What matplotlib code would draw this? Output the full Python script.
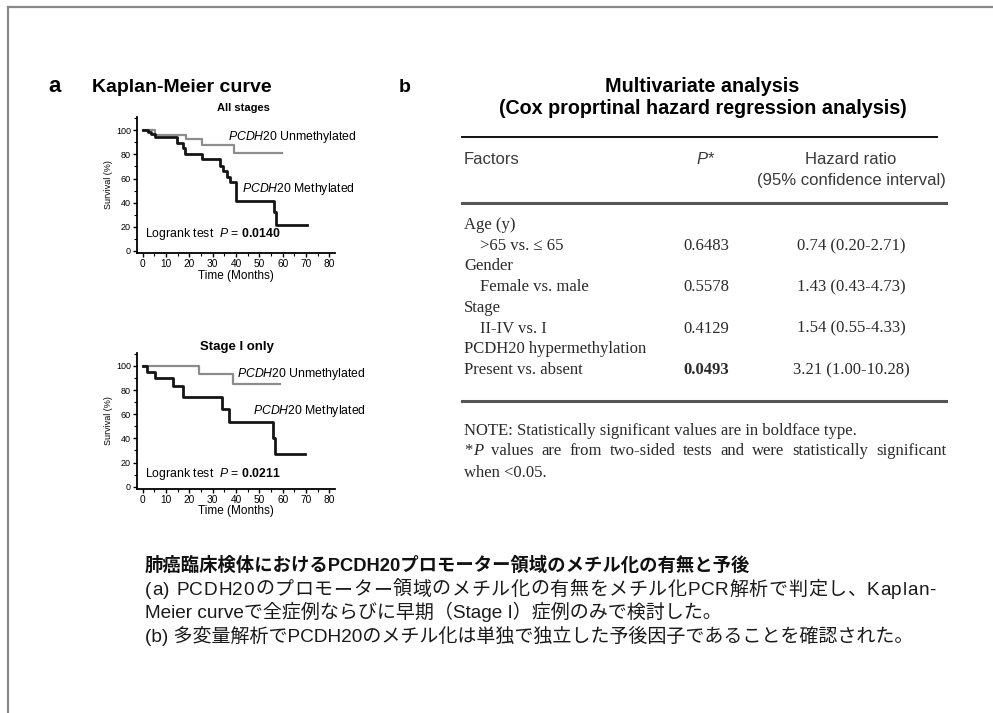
import matplotlib
matplotlib.use("Agg")
import matplotlib.pyplot as plt
from matplotlib.lines import Line2D
from matplotlib.ticker import MultipleLocator

plt.rcParams['font.family'] = ['Liberation Sans', 'DejaVu Sans']
plt.rcParams['mathtext.fontset'] = 'custom'
plt.rcParams['mathtext.rm'] = 'Liberation Sans'
plt.rcParams['mathtext.it'] = 'Liberation Sans:italic'
plt.rcParams['mathtext.bf'] = 'Liberation Sans:bold'

W, H = 993, 713

# Kaplan-Meier curves, all stages (months, survival %)
all_meth_t = [0, 2.4, 3.4, 5.3, 14.6, 17.4, 18.2, 25.3, 33.1, 34.3, 36.0, 37.4, 40.0, 56.3, 57.1, 70.3]
all_meth_s = [100, 98.6, 96.7, 94.5, 89.8, 85.7, 80, 75.9, 70, 66, 61.4, 57.3, 41.3, 32.5, 21.5, 21.5]
all_unmeth_t = [0, 5.3, 18.6, 25.3, 39.1, 59.6]
all_unmeth_s = [100, 96, 92.5, 87.6, 81.3, 81.3]
all_p = "0.0140"

# Kaplan-Meier curves, stage I only
st1_meth_t = [0, 1.7, 5.3, 13.1, 17.1, 33.9, 37.1, 55.7, 56.7, 69.6]
st1_meth_s = [100, 95.3, 89.8, 83.4, 74.6, 64.4, 53.9, 40, 26.8, 26.8]
st1_unmeth_t = [0, 24.3, 38.6, 58.9]
st1_unmeth_s = [100, 93.1, 85.1, 85.1]
st1_p = "0.0211"

# multivariate table
factor_groups = ["Age (y)", "Gender", "Stage", "PCDH20 hypermethylation"]
factor_rows = [">65 vs. \u2264 65", "Female vs. male", "II-IV vs. I", "Present vs. absent"]
p_values = ["0.6483", "0.5578", "0.4129", "0.0493"]
hazard = ["0.74 (0.20-2.71)", "1.43 (0.43-4.73)", "1.54 (0.55-4.33)", "3.21 (1.00-10.28)"]
significant = [False, False, False, True]

note1 = "NOTE: Statistically significant values are in boldface type."
note2 = "values are from two-sided tests and were statistically significant"
note3 = "when <0.05."

caption = [
    "肺癌臨床検体におけるPCDH20プロモーター領域のメチル化の有無と予後",
    "(a) PCDH20のプロモーター領域のメチル化の有無をメチル化PCR解析で判定し、Kaplan-",
    "Meier curveで全症例ならびに早期（Stage I）症例のみで検討した。",
    "(b) 多変量解析でPCDH20のメチル化は単独で独立した予後因子であることを確認された。",
]

fig = plt.figure(figsize=(W / 100, H / 100), dpi=100)
renderer = fig.canvas.get_renderer()


def fx(x):
    return x / W


def fy(y):
    return 1 - y / H


def text_width(s, **kw):
    t = fig.text(0, 0, s, **kw)
    w = t.get_window_extent(renderer).width
    t.remove()
    return w


def justify_chars(s, x0, x1, y, **kw):
    # spread the characters of one line so that it fills x0..x1
    base = text_width("|", **kw)
    natural = text_width(s + "|", **kw) - base
    extra = (x1 - x0 - natural) / (len(s) - 1)
    for i, ch in enumerate(s):
        if ch == " ":
            continue
        pos = text_width(s[:i] + "|", **kw) - base if i > 0 else 0
        fig.text(fx(x0 + pos + i * extra), fy(y), ch, va='baseline', **kw)


def justify_words(pieces, x0, x1, y, **kw):
    widths = [text_width(w, **kw, **st) for w, st in pieces]
    gap = (x1 - x0 - sum(widths)) / (len(pieces) - 1)
    x = x0
    for (w, st), wd in zip(pieces, widths):
        fig.text(fx(x), fy(y), w, va='baseline', **kw, **st)
        x += wd + gap


def km_panel(top_px, title, title_x, title_y, tfs, mt, ms, ut, us, pval, lab):
    ax = fig.add_axes([fx(137.3), fy(top_px + 135.8), 197.9 / W, 135.8 / H])
    ax.step(ut, us, where='post', color='#8c8c8c', lw=1.6)
    ax.step(mt, ms, where='post', color='#151515', lw=2.0)
    ax.set_xlim(-2.3, 82.5)
    ax.set_ylim(-1.5, 111)
    for s in ['top', 'right']:
        ax.spines[s].set_visible(False)
    for s in ['left', 'bottom']:
        ax.spines[s].set_linewidth(1.3)
    ax.xaxis.set_major_locator(MultipleLocator(10))
    ax.xaxis.set_minor_locator(MultipleLocator(5))
    ax.yaxis.set_major_locator(MultipleLocator(20))
    ax.yaxis.set_minor_locator(MultipleLocator(10))
    ax.tick_params(which='major', length=3, width=1, pad=1.5)
    ax.tick_params(axis='x', labelsize=7.3)
    ax.tick_params(axis='y', labelsize=6.5)
    ax.tick_params(which='minor', length=2, width=0.8)
    ax.set_xlabel("Time (Months)", fontsize=8.5, labelpad=0.5)
    ax.set_ylabel("Survival (%)", fontsize=6.5, labelpad=2)
    fig.text(fx(title_x), fy(title_y), title, fontsize=tfs, fontweight='bold',
             ha='center', va='center')
    ax.text(lab[0][0], lab[0][1], r"$\it{PCDH20}$ Unmethylated", fontsize=8.8, va='center')
    ax.text(lab[1][0], lab[1][1], r"$\it{PCDH20}$ Methylated", fontsize=8.8, va='center')
    ax.text(lab[2][0], lab[2][1], r"Logrank test  $\it{P}$ = $\bf{" + pval + "}$",
            fontsize=8.8, va='center')
    return ax


fig.text(fx(55), fy(87), "a", fontsize=16, fontweight='bold', ha='center', va='center')
fig.text(fx(92), fy(87), "Kaplan-Meier curve", fontsize=14, fontweight='bold', va='center')

km_panel(117.0, "All stages", 243, 108, 8, all_meth_t, all_meth_s, all_unmeth_t, all_unmeth_s,
         all_p, [(36.6, 94.4), (42.4, 51.5), (1.0, 14)])
km_panel(352.7, "Stage I only", 237, 347, 9.5, st1_meth_t, st1_meth_s, st1_unmeth_t, st1_unmeth_s,
         st1_p, [(40.5, 93.3), (47.2, 62.5), (1.0, 10.5)])

# panel b: table
fig.text(fx(405), fy(87), "b", fontsize=14, fontweight='bold', ha='center', va='center')
fig.text(fx(702), fy(86), "Multivariate analysis", fontsize=14.2, fontweight='bold',
         ha='center', va='center')
fig.text(fx(703), fy(108), "(Cox proprtinal hazard regression analysis)", fontsize=14.2,
         fontweight='bold', ha='center', va='center')

fig.add_artist(Line2D([fx(462), fx(937)], [fy(137), fy(137)], color='#111111', lw=1.4))
fig.add_artist(Line2D([fx(462), fx(946)], [fy(203), fy(203)], color='#555555', lw=2.2))
fig.add_artist(Line2D([fx(462), fx(946)], [fy(401), fy(401)], color='#555555', lw=2.2))

hdr_col = '#3a3a3a'
col_p, col_hr = 706, 851
fig.text(fx(464), fy(159), "Factors", fontsize=12, color=hdr_col, va='center')
fig.text(fx(col_p), fy(159), r"$\it{P}$*", fontsize=12, color=hdr_col, ha='center', va='center')
fig.text(fx(col_hr), fy(159), "Hazard ratio", fontsize=12, color=hdr_col, ha='center', va='center')
fig.text(fx(col_hr), fy(180), "(95% confidence interval)", fontsize=12, color=hdr_col,
         ha='center', va='center')

serif = ['Liberation Serif', 'DejaVu Serif']
txt_col = '#2a2a2a'
for i in range(len(factor_groups)):
    y_grp = 225 + i * 41.3
    y_row = y_grp + 21
    fig.text(fx(464), fy(y_grp), factor_groups[i], family=serif, fontsize=12, color=txt_col,
             va='center')
    indent = 464 if i == len(factor_groups) - 1 else 480
    fig.text(fx(indent), fy(y_row), factor_rows[i], family=serif, fontsize=12, color=txt_col,
             va='center')
    fig.text(fx(col_p), fy(y_row), p_values[i], family=serif, fontsize=12, color=txt_col,
             ha='center', va='center', fontweight='bold' if significant[i] else 'normal')
    fig.text(fx(col_hr), fy(y_row), hazard[i], family=serif, fontsize=12, color=txt_col,
             ha='center', va='center')

note_kw = dict(family=serif, fontsize=12, color=txt_col)
fig.text(fx(464), fy(435), note1, va='baseline', **note_kw)
star_w = text_width("*", **note_kw)
fig.text(fx(464), fy(455), "*", va='baseline', **note_kw)
pieces = [("P", {'fontstyle': 'italic'})] + [(w, {}) for w in note2.split()]
justify_words(pieces, 464 + star_w + 1, 946, 455, **note_kw)
fig.text(fx(464), fy(477), note3, va='baseline', **note_kw)

# caption in Japanese
jp = ['Liberation Sans', 'Noto Sans CJK JP']
fig.text(fx(145), fy(571), caption[0], family=jp, fontsize=13.2, color='#111111',
         va='baseline', fontweight='bold')
justify_chars(caption[1], 145, 936, 595, family=jp, fontsize=13.7, color='#1a1a1a')
fig.text(fx(145), fy(618), caption[2], family=jp, fontsize=13.7, color='#1a1a1a', va='baseline')
fig.text(fx(145), fy(642), caption[3], family=jp, fontsize=13.7, color='#1a1a1a', va='baseline')

# page frame (top and left edges)
fig.add_artist(Line2D([fx(8), 1], [fy(7), fy(7)], color='#8a8a8a', lw=1.6))
fig.add_artist(Line2D([fx(8), fx(8)], [fy(7), 0], color='#8a8a8a', lw=1.6))

fig.savefig("out.png", dpi=100)
